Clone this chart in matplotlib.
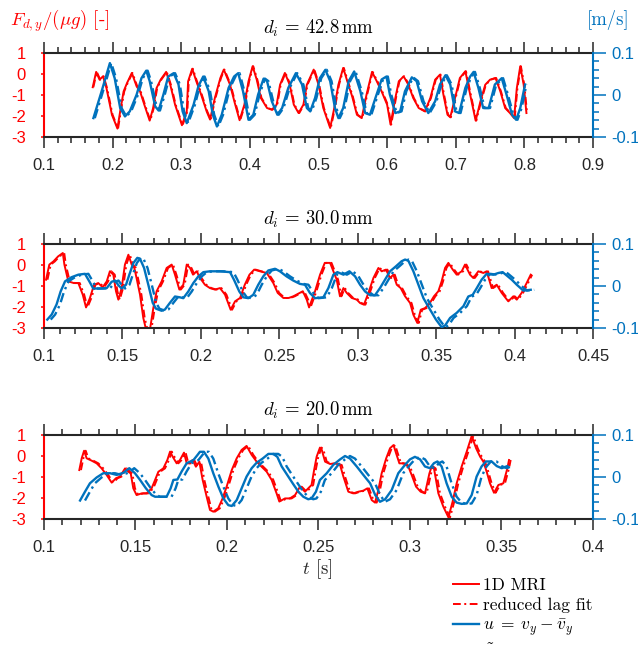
import matplotlib
matplotlib.use('Agg')
import matplotlib.pyplot as plt
from matplotlib.ticker import MultipleLocator, FixedLocator
from matplotlib.lines import Line2D
import numpy as np

plt.rcParams['mathtext.fontset'] = 'cm'
plt.rcParams['axes.unicode_minus'] = False
plt.rcParams['font.family'] = ['Liberation Sans', 'DejaVu Sans']

RED = '#FF0000'
BLUE = '#0072BD'
AXC = '#262626'

# ---------------- data ----------------
titles = [r'$d_i \,=\, 42.8\,\mathrm{mm}$', r'$d_i \,=\, 30.0\,\mathrm{mm}$', r'$d_i \,=\, 20.0\,\mathrm{mm}$']
xlims = [(0.1, 0.9), (0.1, 0.45), (0.1, 0.4)]
xticks = [[0.1, 0.2, 0.3, 0.4, 0.5, 0.6, 0.7, 0.8, 0.9],
          [0.1, 0.15, 0.2, 0.25, 0.3, 0.35, 0.4, 0.45],
          [0.1, 0.15, 0.2, 0.25, 0.3, 0.35, 0.4]]
xticklabels = [['0.1', '0.2', '0.3', '0.4', '0.5', '0.6', '0.7', '0.8', '0.9'],
               ['0.1', '0.15', '0.2', '0.25', '0.3', '0.35', '0.4', '0.45'],
               ['0.1', '0.15', '0.2', '0.25', '0.3', '0.35', '0.4']]
xminor = [0.02, 0.01, 0.01]
left_ticks = [-3, -2, -1, 0, 1]
left_ticklabels = ['-3', '-2', '-1', '0', '1']
right_ticks = [-0.1, 0.0, 0.1]
right_ticklabels = ['-0.1', '0', '0.1']

# panel 1 : d_i = 42.8 mm
t1_F = [0.171, 0.176, 0.181, 0.186, 0.191, 0.199, 0.207, 0.211, 0.216, 0.221, 0.228, 0.235, 0.240, 0.247,
        0.254, 0.259, 0.264, 0.270, 0.278, 0.284, 0.291, 0.301, 0.308, 0.310, 0.316, 0.322, 0.329, 0.337,
        0.342, 0.349, 0.357, 0.362, 0.371, 0.378, 0.385, 0.392, 0.398, 0.404, 0.410, 0.416, 0.425, 0.432,
        0.439, 0.444, 0.451, 0.458, 0.464, 0.471, 0.478, 0.483, 0.493, 0.500, 0.507, 0.517, 0.523, 0.529,
        0.536, 0.542, 0.549, 0.556, 0.563, 0.570, 0.578, 0.585, 0.592, 0.600, 0.605, 0.612, 0.617, 0.624,
        0.631, 0.638, 0.646, 0.655, 0.663, 0.670, 0.677, 0.682, 0.688, 0.692, 0.699, 0.706, 0.714, 0.721,
        0.729, 0.736, 0.743, 0.750, 0.758, 0.765, 0.772, 0.779, 0.785, 0.789, 0.794, 0.799, 0.803]
F1 = [-0.63, 0.10, -0.27, -0.11, -0.67, -1.94, -2.60, -1.78, -0.83, -0.43, 0.05, -0.59, -0.83, -1.54,
      -2.22, -1.62, -0.67, -0.27, 0.10, -0.51, -1.46, -2.44, -1.78, -0.35, 0.25, -0.35, -0.98, -1.78,
      -2.17, -1.14, -0.19, 0.21, -0.50, -1.38, -2.20, -1.46, -0.35, 0.37, -0.27, -1.14, -1.62, -1.70,
      -1.46, -0.51, 0.05, -0.51, -1.46, -1.86, -1.46, -0.51, 0.21, -0.50, -1.62, -2.57, -1.62, -0.51,
      0.29, -0.35, -1.06, -1.94, -2.10, -0.98, 0.10, -0.35, -0.83, -1.46, -2.41, -1.14, -0.35, -0.11,
      -0.51, -1.14, -1.62, -1.78, -1.14, -0.27, -0.03, -0.98, -1.94, -2.06, -1.14, -0.19, 0.13, -0.98,
      -2.22, -1.30, -0.51, -0.27, -0.19, -0.83, -1.62, -1.86, -2.10, -0.67, 0.37, -0.51, -1.86]
t1_u = [0.172, 0.184, 0.196, 0.203, 0.211, 0.218, 0.225, 0.235, 0.242, 0.249, 0.254, 0.262, 0.267, 0.274,
        0.281, 0.289, 0.296, 0.302, 0.308, 0.318, 0.325, 0.332, 0.340, 0.346, 0.352, 0.359, 0.369, 0.377,
        0.383, 0.390, 0.398, 0.405, 0.412, 0.420, 0.425, 0.432, 0.440, 0.447, 0.456, 0.467, 0.476, 0.483,
        0.488, 0.495, 0.502, 0.510, 0.517, 0.524, 0.529, 0.536, 0.544, 0.552, 0.561, 0.568, 0.575, 0.583,
        0.592, 0.599, 0.604, 0.612, 0.619, 0.626, 0.636, 0.643, 0.651, 0.660, 0.670, 0.677, 0.685, 0.692,
        0.699, 0.705, 0.714, 0.721, 0.726, 0.733, 0.740, 0.748, 0.757, 0.767, 0.774, 0.782, 0.788, 0.794,
        0.801]
u1 = [-0.055, 0.009, 0.076, 0.040, -0.031, -0.051, -0.039, 0.001, 0.040, 0.058, 0.033, -0.027, -0.037,
      0.001, 0.044, 0.052, 0.025, -0.039, -0.067, -0.023, 0.021, 0.044, 0.009, -0.047, -0.075, -0.047,
      0.017, 0.044, 0.052, 0.009, -0.059, -0.047, 0.001, 0.039, 0.033, -0.015, -0.047, -0.031, 0.017,
      0.052, 0.025, -0.031, -0.039, -0.007, 0.040, 0.060, 0.033, -0.031, -0.055, -0.031, 0.033, 0.056,
      0.009, -0.043, -0.047, -0.007, 0.037, 0.044, 0.001, -0.043, -0.039, 0.009, 0.042, 0.033, -0.015,
      -0.043, -0.015, 0.025, 0.047, 0.025, -0.039, -0.043, 0.017, 0.044, 0.055, 0.017, -0.031, -0.031,
      0.025, 0.040, 0.001, -0.047, -0.059, -0.031, 0.025]

# panel 2 : d_i = 30.0 mm
t2_F = [0.1013, 0.1034, 0.1060, 0.1090, 0.1120, 0.1130, 0.1155, 0.1190, 0.1219, 0.1247, 0.1268, 0.1293,
        0.1319, 0.1346, 0.1374, 0.1400, 0.1420, 0.1442, 0.1459, 0.1474, 0.1495, 0.1516, 0.1538, 0.1559,
        0.1576, 0.1590, 0.1612, 0.1633, 0.1650, 0.1676, 0.1697, 0.1718, 0.1750, 0.1782, 0.1814, 0.1835,
        0.1863, 0.1888, 0.1910, 0.1931, 0.1950, 0.1973, 0.1995, 0.2026, 0.2058, 0.2090, 0.2122, 0.2154,
        0.2190, 0.2218, 0.2250, 0.2280, 0.2310, 0.2340, 0.2377, 0.2420, 0.2462, 0.2490, 0.2526, 0.2560,
        0.2590, 0.2650, 0.2675, 0.2690, 0.2728, 0.2760, 0.2790, 0.2824, 0.2845, 0.2866, 0.2887, 0.2909,
        0.2930, 0.2962, 0.2994, 0.3015, 0.3040, 0.3068, 0.3100, 0.3132, 0.3153, 0.3180, 0.3206, 0.3227,
        0.3249, 0.3274, 0.3302, 0.3334, 0.3355, 0.3380, 0.3402, 0.3430, 0.3460, 0.3486, 0.3514, 0.3535,
        0.3557, 0.3578, 0.3606, 0.3631, 0.3663, 0.3684, 0.3716, 0.3737, 0.3769, 0.3801, 0.3822, 0.3854,
        0.3886, 0.3918, 0.3960, 0.3992, 0.4014, 0.4045, 0.4077, 0.4103]
F2 = [-0.70, 0.02, 0.17, 0.41, 0.57, 0.02, -0.78, -0.86, -0.86, -1.41, -2.02, -1.57,
      -0.94, -0.86, -1.06, -0.78, -0.30, -0.46, -1.25, -1.65, -1.10, 0.02, 0.49, 0.02,
      -0.14, -0.62, -1.41, -2.52, -3.05, -3.05, -2.05, -1.25, -0.78, -0.14, 0.02, -0.46,
      -1.17, -0.94, 0.02, -0.14, -0.46, -0.30, -0.62, -0.94, -1.10, -1.17, -1.10, -1.41,
      -2.13, -1.73, -1.57, -0.94, -0.46, -0.22, -0.30, -0.38, -0.86, -1.33, -1.57, -1.57,
      -1.49, -1.25, -1.65, -2.02, -1.25, -0.46, 0.10, 0.10, -0.30, -0.70, -1.49, -1.10,
      -1.33, -1.57, -1.65, -1.81, -1.89, -1.33, -0.62, -0.14, -0.30, -0.22, -0.62, -0.46,
      -0.94, -1.10, -1.49, -1.81, -2.37, -2.76, -2.13, -2.05, -1.81, -1.49, -1.25, -0.78,
      -0.14, 0.10, -0.22, -0.46, -0.30, 0.02, -0.46, -0.62, -0.30, -0.38, -0.30, -1.10,
      -0.94, -1.33, -1.73, -1.49, -1.65, -1.33, -0.86, -0.46]
t2_u = [0.1021, 0.1049, 0.1080, 0.1106, 0.1134, 0.1176, 0.1219, 0.1261, 0.1289, 0.1314, 0.1357, 0.1400,
        0.1431, 0.1453, 0.1474, 0.1495, 0.1523, 0.1544, 0.1570, 0.1595, 0.1612, 0.1638, 0.1665, 0.1693,
        0.1714, 0.1750, 0.1771, 0.1803, 0.1835, 0.1867, 0.1888, 0.1920, 0.1952, 0.1984, 0.2016, 0.2058,
        0.2122, 0.2186, 0.2211, 0.2245, 0.2271, 0.2303, 0.2334, 0.2366, 0.2398, 0.2430, 0.2473, 0.2504,
        0.2546, 0.2589, 0.2632, 0.2664, 0.2696, 0.2728, 0.2781, 0.2813, 0.2845, 0.2870, 0.2909, 0.2947,
        0.2983, 0.3015, 0.3047, 0.3079, 0.3110, 0.3142, 0.3174, 0.3206, 0.3244, 0.3280, 0.3302, 0.3323,
        0.3355, 0.3387, 0.3419, 0.3461, 0.3499, 0.3535, 0.3557, 0.3589, 0.3631, 0.3674, 0.3705, 0.3733,
        0.3759, 0.3790, 0.3822, 0.3865, 0.3897, 0.3924, 0.3950, 0.3982, 0.4014, 0.4056, 0.4103]
u2 = [-0.080, -0.068, -0.044, -0.013, 0.011, 0.021, 0.027, 0.029, 0.011, -0.006, -0.006, -0.005,
      0.010, 0.013, 0.002, -0.006, 0.003, 0.027, 0.055, 0.067, 0.065, 0.043, 0.003, -0.040,
      -0.054, -0.059, -0.056, -0.040, -0.025, -0.027, -0.029, -0.013, 0.007, 0.023, 0.033, 0.035,
      0.035, 0.033, 0.015, -0.013, -0.027, -0.029, -0.021, 0.003, 0.023, 0.037, 0.041, 0.035,
      0.023, 0.013, 0.005, 0.003, -0.017, -0.029, -0.027, -0.005, 0.027, 0.033, 0.027, 0.035,
      0.023, 0.003, -0.013, -0.022, -0.022, -0.005, 0.015, 0.035, 0.047, 0.059, 0.063, 0.060,
      0.035, 0.003, -0.029, -0.056, -0.080, -0.098, -0.094, -0.076, -0.064, -0.048, -0.025, -0.021,
      -0.005, 0.015, 0.029, 0.027, 0.031, 0.033, 0.025, 0.015, 0.003, -0.011, -0.009]

# panel 3 : d_i = 20.0 mm
t3_F = [0.1193, 0.1206, 0.1219, 0.1233, 0.1260, 0.1288, 0.1315, 0.1342, 0.1370, 0.1393, 0.1415, 0.1443,
        0.1461, 0.1474, 0.1488, 0.1506, 0.1534, 0.1561, 0.1588, 0.1607, 0.1625, 0.1652, 0.1674, 0.1689,
        0.1703, 0.1725, 0.1743, 0.1765, 0.1780, 0.1794, 0.1812, 0.1830, 0.1849, 0.1867, 0.1889, 0.1907,
        0.1925, 0.1952, 0.1976, 0.1998, 0.2026, 0.2053, 0.2080, 0.2107, 0.2135, 0.2162, 0.2189, 0.2217,
        0.2244, 0.2271, 0.2286, 0.2317, 0.2344, 0.2372, 0.2399, 0.2426, 0.2453, 0.2462, 0.2476, 0.2490,
        0.2508, 0.2518, 0.2536, 0.2563, 0.2590, 0.2618, 0.2636, 0.2663, 0.2690, 0.2718, 0.2745, 0.2767,
        0.2791, 0.2809, 0.2827, 0.2845, 0.2870, 0.2891, 0.2910, 0.2924, 0.2942, 0.2964, 0.2991, 0.3009,
        0.3033, 0.3058, 0.3082, 0.3106, 0.3118, 0.3131, 0.3155, 0.3182, 0.3210, 0.3233, 0.3255, 0.3282,
        0.3310, 0.3337, 0.3361, 0.3383, 0.3401, 0.3419, 0.3437, 0.3459, 0.3483, 0.3510, 0.3532, 0.3541]
F3 = [-0.67, -0.11, 0.25, -0.11, -0.22, -0.35, -0.59, -0.90, -1.27, -1.06, -0.98, -0.59,
      -0.75, -0.83, -1.54, -1.86, -1.78, -1.78, -1.54, -1.14, -0.75, -0.59, -0.19, 0.21,
      -0.03, -0.35, -0.19, 0.16, -0.35, -0.35, -0.19, -0.51, -0.27, -1.14, -1.94, -2.57,
      -2.65, -2.49, -2.02, -1.46, -0.67, -0.11, 0.29, 0.48, 0.05, -0.27, -0.51, -0.75,
      -1.14, -1.78, -2.17, -2.02, -2.02, -1.86, -1.46, -1.70, -1.46, -1.38, -0.67, -0.03,
      0.40, 0.29, -0.27, -0.38, -0.35, -0.43, -0.98, -1.70, -1.78, -1.70, -1.65, -1.54,
      -2.10, -2.22, -1.62, -0.83, -0.11, 0.37, 0.52, 0.13, -0.35, -0.35, -0.51, -0.90,
      -1.46, -1.70, -1.78, -0.83, -0.51, -0.59, -1.78, -2.41, -2.92, -2.17, -1.30, -0.51,
      0.21, 0.95, 0.37, -0.03, -0.27, -0.75, -1.30, -1.75, -1.38, -1.30, -0.59, -0.19]
t3_u = [0.1197, 0.1224, 0.1251, 0.1288, 0.1324, 0.1361, 0.1397, 0.1434, 0.1466, 0.1497, 0.1525, 0.1557,
        0.1588, 0.1607, 0.1643, 0.1670, 0.1692, 0.1707, 0.1729, 0.1752, 0.1780, 0.1816, 0.1838, 0.1852,
        0.1874, 0.1898, 0.1925, 0.1953, 0.1980, 0.2007, 0.2026, 0.2053, 0.2080, 0.2107, 0.2135, 0.2162,
        0.2195, 0.2226, 0.2253, 0.2275, 0.2299, 0.2335, 0.2362, 0.2390, 0.2417, 0.2444, 0.2462, 0.2486,
        0.2508, 0.2545, 0.2581, 0.2618, 0.2645, 0.2672, 0.2709, 0.2745, 0.2782, 0.2810, 0.2836, 0.2864,
        0.2900, 0.2936, 0.2973, 0.3000, 0.3027, 0.3055, 0.3082, 0.3109, 0.3131, 0.3150, 0.3173, 0.3200,
        0.3228, 0.3255, 0.3282, 0.3310, 0.3337, 0.3364, 0.3391, 0.3415, 0.3446, 0.3474, 0.3501, 0.3532]
u3 = [-0.056, -0.035, -0.015, -0.001, 0.009, 0.009, 0.005, 0.010, 0.021, 0.009, -0.007, -0.027,
      -0.043, -0.047, -0.047, -0.047, -0.027, -0.007, -0.006, 0.013, 0.033, 0.040, 0.052, 0.060,
      0.060, 0.044, 0.009, -0.023, -0.051, -0.067, -0.069, -0.055, -0.027, 0.001, 0.021, 0.034,
      0.044, 0.055, 0.055, 0.048, 0.025, 0.001, -0.017, -0.035, -0.047, -0.053, -0.051, -0.035,
      -0.007, 0.009, 0.029, 0.042, 0.050, 0.044, 0.025, 0.005, -0.015, -0.043, -0.059, -0.053,
      -0.031, 0.009, 0.029, 0.042, 0.048, 0.042, 0.025, 0.021, 0.033, 0.037, 0.025, -0.015,
      -0.047, -0.061, -0.064, -0.063, -0.043, 0.001, 0.025, 0.037, 0.037, 0.026, 0.021, 0.026]

t_F = [t1_F, t2_F, t3_F]
F_meas = [F1, F2, F3]
t_u = [t1_u, t2_u, t3_u]
u_meas = [u1, u2, u3]
fit_lag = [0.0009, 0.0009, 0.0009]     # reduced lag fit, time offset [s]
utilde_lag = [0.0020, 0.0022, 0.0027]  # u tilde, time lag [s]

legend_labels = ['1D MRI', 'reduced lag fit', r'$u\;=\;v_y\:-\:\bar{v}_y$', r'$\tilde{u}$']

# ---------------- figure ----------------
W, H = 638, 647
fig = plt.figure(figsize=(W / 100, H / 100), dpi=100)

ax_px = [(53, 137), (244, 328), (435, 519)]
x0, x1 = 44, 593
DD = (4, 1.8, 1, 1.8)

for i in range(3):
    top, bot = ax_px[i]
    rect = [x0 / W, 1 - bot / H, (x1 - x0) / W, (bot - top) / H]
    ax = fig.add_axes(rect)
    ax.plot(t_F[i], F_meas[i], color=RED, lw=1.4, solid_joinstyle='round')
    ax.plot(np.array(t_F[i]) + fit_lag[i], F_meas[i], color=RED, lw=1.4, dashes=DD)
    ax.set_xlim(*xlims[i])
    ax.set_ylim(-3, 1)
    ax.set_xticks(xticks[i])
    ax.set_xticklabels(xticklabels[i])
    ax.xaxis.set_minor_locator(MultipleLocator(xminor[i]))
    ax.set_yticks(left_ticks)
    ax.set_yticklabels(left_ticklabels)
    ax.tick_params(axis='x', which='both', direction='out', top=True, bottom=True,
                   color=AXC, labelcolor=AXC, labelsize=12, pad=7)
    ax.tick_params(axis='x', which='major', length=8, width=1.1)
    ax.tick_params(axis='x', which='minor', length=4.3, width=1.1)
    ax.tick_params(axis='y', which='both', direction='out', left=True, right=False,
                   color=RED, labelcolor=RED, labelsize=12, length=2.5, width=1.1, pad=10.5)
    for s in ['top', 'bottom']:
        ax.spines[s].set_color(AXC)
        ax.spines[s].set_linewidth(1.5)
    ax.spines['left'].set_color(RED)
    ax.spines['left'].set_linewidth(1.5)
    ax.spines['right'].set_visible(False)

    ax2 = ax.twinx()
    ax2.plot(t_u[i], u_meas[i], color=BLUE, lw=1.7)
    ax2.plot(np.array(t_u[i]) + utilde_lag[i], u_meas[i], color=BLUE, lw=1.7, dashes=DD)
    ax2.set_ylim(-0.1, 0.1)
    ax2.set_yticks(right_ticks)
    ax2.set_yticklabels(right_ticklabels)
    ax2.yaxis.set_minor_locator(MultipleLocator(0.02))
    ax2.tick_params(axis='y', which='both', direction='out', color=BLUE, labelcolor=BLUE,
                    labelsize=12, width=1.1, pad=3.5)
    ax2.tick_params(axis='y', which='major', length=9.5)
    ax2.tick_params(axis='y', which='minor', length=4.3)
    for s in ['top', 'bottom', 'left']:
        ax2.spines[s].set_visible(False)
    ax2.spines['right'].set_color(BLUE)
    ax2.spines['right'].set_linewidth(1.5)

    ax.text(0.5, 1 + 25 / (bot - top), titles[i], transform=ax.transAxes,
            ha='center', va='center', fontsize=13.5, color='black')

# axis labels
fig.text(10 / W, 1 - 21 / H, r'$F_{d,y}/(\mu g)$ [-]', color=RED, fontsize=13.5,
         ha='left', va='center', family='cmr10')
fig.text(608 / W, 1 - 20 / H, '[m/s]', color=BLUE, fontsize=13.5,
         ha='center', va='center', family='cmr10')
fig.text(317 / W, 1 - 569 / H, r'$t$ [s]', color=AXC, fontsize=13.5,
         ha='center', va='center', family='cmr10')

handles = [Line2D([], [], color=RED, lw=1.4),
           Line2D([], [], color=RED, lw=1.4, dashes=DD),
           Line2D([], [], color=BLUE, lw=1.7),
           Line2D([], [], color=BLUE, lw=1.7, dashes=DD)]
fig.legend(handles, legend_labels, loc='upper left', bbox_to_anchor=(443 / W, 1 - 567 / H),
           frameon=False, prop={'family': 'cmr10', 'size': 12.5}, handlelength=1.5,
           handletextpad=0.2, labelspacing=0.25, borderpad=0.1)

fig.savefig('out.png', dpi=100)
